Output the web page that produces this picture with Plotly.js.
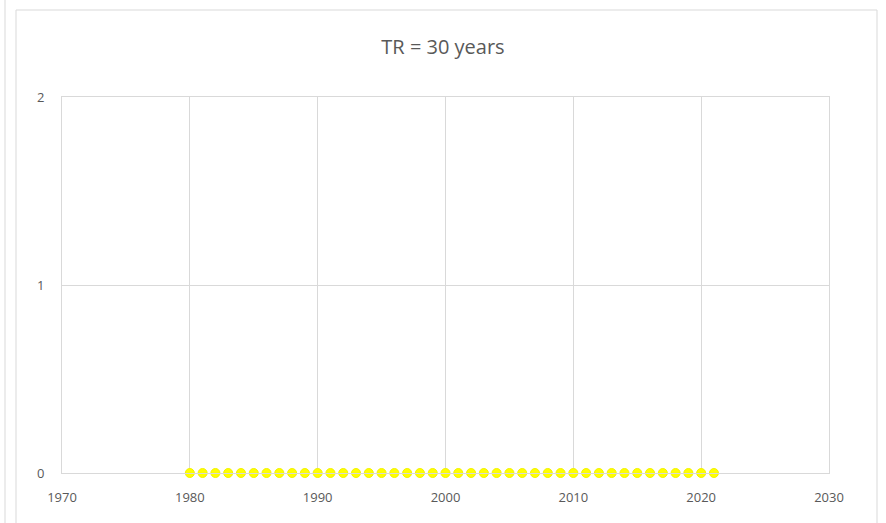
<!DOCTYPE html>
<html>
<head>
<meta charset="utf-8">
<script src="https://cdn.plot.ly/plotly-3.0.1.min.js"></script>
<style>html,body{margin:0;padding:0;background:#fff;}#chart{width:886px;height:523px;}</style>
</head>
<body>
<div id="chart"></div>
<script>
const years = [1980,1981,1982,1983,1984,1985,1986,1987,1988,1989,1990,1991,1992,1993,1994,1995,1996,1997,1998,1999,2000,2001,2002,2003,2004,2005,2006,2007,2008,2009,2010,2011,2012,2013,2014,2015,2016,2017,2018,2019,2020,2021];
const values = [0,0,0,0,0,0,0,0,0,0,0,0,0,0,0,0,0,0,0,0,0,0,0,0,0,0,0,0,0,0,0,0,0,0,0,0,0,0,0,0,0,0];
const xTicks = [1970,1980,1990,2000,2010,2020,2030];
const yTicks = [0,1,2];
const chartTitle = 'TR = 30 years';

const trace = {
  x: years, y: values, type: 'scatter', mode: 'markers',
  marker: {color: '#ffff00', size: 9, line: {color: '#f2f200', width: 1}},
  cliponaxis: false, hoverinfo: 'skip'
};
const layout = {
  width: 886, height: 523,
  margin: {l: 62, r: 57, t: 97, b: 50},
  paper_bgcolor: '#fff', plot_bgcolor: '#fff',
  font: {family: 'Open Sans, Liberation Sans, sans-serif', color: '#595959'},
  title: {text: chartTitle, x: 0.5, xanchor: 'center', y: 0.91, yanchor: 'middle', font: {size: 20, color: '#595959'}},
  showlegend: false,
  xaxis: {range: [1970, 2030], tickvals: xTicks, ticktext: xTicks.map(String), showgrid: true, gridcolor: '#d9d9d9', gridwidth: 1,
          zeroline: false, showline: true, linecolor: '#d9d9d9', mirror: true, ticks: '', tickfont: {size: 13, color: '#595959'}, ticklabelstandoff: 12},
  yaxis: {range: [0, 2], tickvals: yTicks, ticktext: yTicks.map(String), showgrid: true, gridcolor: '#d9d9d9', gridwidth: 1,
          zeroline: false, showline: true, linecolor: '#d9d9d9', mirror: true, ticks: '', tickfont: {size: 13, color: '#595959'}, ticklabelstandoff: 14},
  shapes: [
    {type: 'rect', xref: 'paper', yref: 'paper', x0: -46/767, x1: 1 + 48/767, y0: -60/376, y1: 1 + 87/376, line: {color: '#d9d9d9', width: 1}},
    {type: 'line', xref: 'paper', yref: 'paper', x0: -57/767, x1: -57/767, y0: -60/376, y1: 1 + 100/376, line: {color: '#d9d9d9', width: 1}}
  ]
};
Plotly.newPlot('chart', [trace], layout, {displayModeBar: false, staticPlot: true});
</script>
</body>
</html>
